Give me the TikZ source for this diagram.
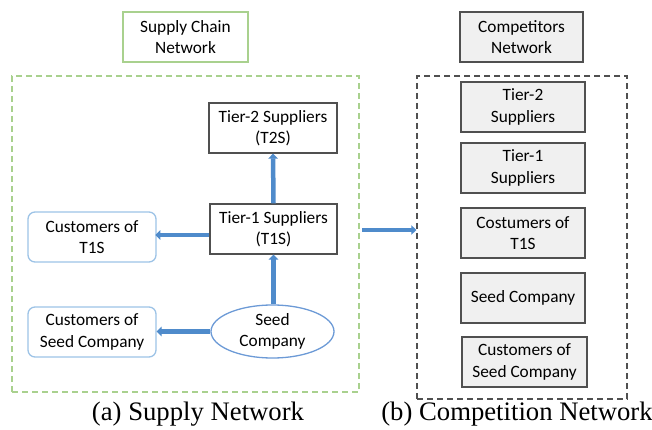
\documentclass[tikz,border=0pt]{standalone}
\usepackage{fontspec}
\setmainfont{Liberation Serif}
\newfontfamily\boxfont{Carlito}
\usetikzlibrary{arrows.meta,shapes.geometric}
\definecolor{arrblue}{HTML}{4F8BCB}
\definecolor{lblue}{HTML}{9DC3E6}
\definecolor{eblue}{HTML}{6C9AD6}
\definecolor{lgreen}{HTML}{A9D18E}
\definecolor{dgray}{HTML}{505050}
\definecolor{fgray}{HTML}{F0F0F0}
\tikzset{
  every node/.style={font=\boxfont\fontsize{17.3}{21.5}\selectfont, align=center, inner sep=0pt},
  plainbox/.style={draw=dgray, line width=1.3pt, minimum width=128pt, minimum height=50pt},
  custbox/.style={draw=lblue, line width=1.3pt, rounded corners=7pt, minimum width=128pt, minimum height=50pt},
  graybox/.style={draw=dgray, fill=fgray, line width=1.3pt, minimum width=124pt, minimum height=50pt},
  greenbox/.style={draw=lgreen, line width=1.3pt, minimum width=125pt, minimum height=50pt},
  seedell/.style={ellipse, draw=eblue, line width=1.3pt, minimum width=123pt, minimum height=53pt},
  container/.style={dashed, dash pattern=on 6pt off 4pt, line width=1.4pt},
  arr/.style={draw=arrblue, line width=4.5pt, -{Triangle[width=9.5pt,length=5pt]}},
  caption/.style={font=\rmfamily\fontsize{26.7}{30}\selectfont}
}
\begin{document}
\begin{tikzpicture}[x=1pt,y=-1pt]
\useasboundingbox (0,0) rectangle (652,430);
% left part
\node[greenbox] (scn) at (185.5,37) {Supply Chain\\Network};
\node[container, draw=lgreen, minimum width=347pt, minimum height=316pt] (green) at (185.5,234) {};
\node[plainbox] (t2s) at (273,128) {Tier-2 Suppliers\\(T2S)};
\node[plainbox, minimum width=127pt] (t1s) at (273.5,229) {Tier-1 Suppliers\\(T1S)};
\node[custbox] (ct1s) at (92,237) {Customers of\\T1S};
\node[custbox] (cseed) at (92,332) {Customers of\\Seed Company};
\node[seedell] (seed) at (272.5,331.5) {Seed\\Company};
\draw[arr] (seed.north -| t1s) -- (t1s.south);
\draw[arr] (t1s.north) -- (t2s.south);
\draw[arr] (t1s.west |- ct1s.east) ++(0,-2) -- ++(-54,0);
\draw[arr] (seed.west) -- (cseed.east |- seed.west);
% right part
\node[graybox, minimum width=123pt] (cn) at (521.5,37) {Competitors\\Network};
\node[container, draw=dgray, minimum width=210pt, minimum height=323pt] (gray) at (522,237.5) {};
\node[graybox] (g1) at (523,107) {Tier-2\\Suppliers};
\node[graybox] (g2) at (523,168) {Tier-1\\Suppliers};
\node[graybox] (g3) at (523,233) {Costumers of\\T1S};
\node[graybox] (g4) at (523,298) {Seed Company};
\node[graybox, minimum width=125pt] (g5) at (524.5,362) {Customers of\\Seed Company};
\coordinate (mid) at (362,230);
\draw[arr] (mid) -- (mid -| gray.west);
% captions
\node[caption] (capa) at (198,414) {(a) Supply Network};
\node[caption] (capb) at (517,414) {(b) Competition Network};
\end{tikzpicture}
\end{document}
